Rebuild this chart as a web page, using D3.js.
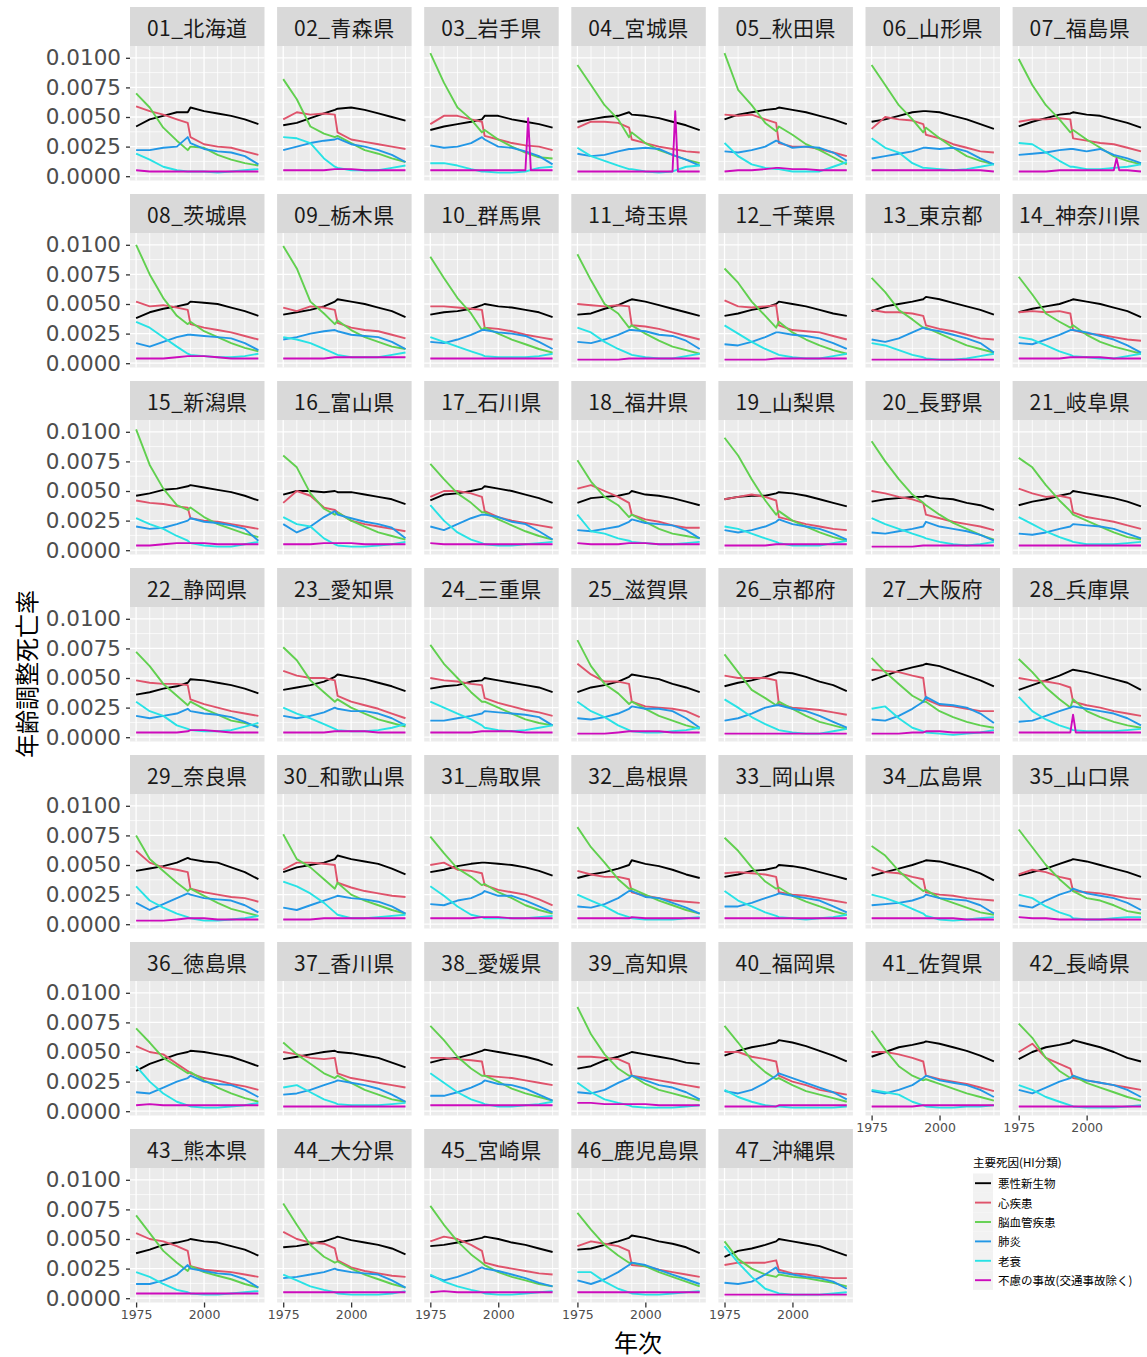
<!DOCTYPE html>
<html>
<head>
<meta charset="utf-8">
<script src="https://cdn.jsdelivr.net/npm/d3@7"></script>
<style>
  body { margin: 0; background: #fff; }
  svg { display: block; }
</style>
</head>
<body>
<svg id="chart" width="1147" height="1357"></svg>
<script>
// sample years (values at these years)
const years = [1975, 1980, 1985, 1990, 1994, 1995, 2000, 2005, 2010, 2015, 2020];

const prefectures = [
  '01_北海道', '02_青森県', '03_岩手県', '04_宮城県', '05_秋田県', '06_山形県', '07_福島県',
  '08_茨城県', '09_栃木県', '10_群馬県', '11_埼玉県', '12_千葉県', '13_東京都', '14_神奈川県',
  '15_新潟県', '16_富山県', '17_石川県', '18_福井県', '19_山梨県', '20_長野県', '21_岐阜県',
  '22_静岡県', '23_愛知県', '24_三重県', '25_滋賀県', '26_京都府', '27_大阪府', '28_兵庫県',
  '29_奈良県', '30_和歌山県', '31_鳥取県', '32_島根県', '33_岡山県', '34_広島県', '35_山口県',
  '36_徳島県', '37_香川県', '38_愛媛県', '39_高知県', '40_福岡県', '41_佐賀県', '42_長崎県',
  '43_熊本県', '44_大分県', '45_宮崎県', '46_鹿児島県', '47_沖縄県'
];

const causes = ['悪性新生物', '心疾患', '脳血管疾患', '肺炎', '老衰', '不慮の事故(交通事故除く)'];

// values in units of 0.0001, one row per prefecture, one column per sample year
const cancer = [
  [42,48,51,54,54,58,55,53,51,48,44], [43,45,49,53,56,57,58,56,53,50,47], [39,42,44,46,48,51,51,48,46,44,41],
  [46,48,50,51,54,52,51,49,46,43,39], [48,52,54,56,57,58,56,54,51,48,44], [46,48,51,54,55,55,54,51,48,44,40],
  [42,46,49,52,53,54,52,51,48,45,41], [38,43,46,48,50,52,51,50,47,44,40], [41,43,45,48,52,54,52,50,47,44,39],
  [41,43,44,46,49,50,48,47,45,43,39], [41,42,46,49,53,54,52,49,46,43,40], [40,42,45,47,50,52,50,48,45,42,40],
  [44,48,50,52,54,56,54,51,48,45,41], [43,46,48,50,53,54,52,50,47,44,39], [46,48,51,52,54,55,53,51,49,46,42],
  [47,50,50,49,50,49,49,47,45,43,39], [42,47,48,50,52,54,52,50,47,44,40], [40,44,45,46,48,50,47,46,44,41,38],
  [43,45,46,46,48,49,48,46,43,40,37], [41,43,44,45,45,46,44,43,40,38,34], [38,41,43,46,48,50,48,46,44,41,37],
  [36,38,41,43,46,49,48,46,44,41,37], [40,42,44,47,51,53,51,49,46,43,39], [41,43,44,47,48,50,48,46,44,42,38],
  [38,42,44,47,51,53,51,49,45,42,38], [43,46,48,51,54,55,54,51,47,44,39], [48,52,56,59,61,62,60,56,52,48,43],
  [40,44,48,52,56,57,55,52,49,46,40], [45,47,49,52,56,55,53,52,48,44,38], [44,48,50,52,55,58,55,53,51,47,42],
  [44,46,49,51,52,52,51,50,48,45,41], [39,42,44,47,50,54,51,49,46,42,39], [40,42,45,46,48,50,49,47,44,41,38],
  [41,44,47,50,53,54,53,50,47,43,37], [41,44,47,51,54,55,53,50,47,44,40], [34,40,44,48,50,51,50,48,46,42,38],
  [44,46,48,50,51,50,49,47,45,41,37], [41,44,45,48,51,52,50,48,46,43,39], [36,38,43,46,49,50,48,46,44,41,40],
  [47,51,54,56,58,60,58,55,51,47,42], [46,50,54,56,58,59,57,54,51,47,42], [44,50,54,56,58,60,57,54,50,45,42],
  [38,41,45,47,49,50,48,47,44,41,36], [43,44,46,48,51,52,49,47,45,42,37], [44,45,47,49,51,52,50,47,45,42,39],
  [41,42,45,48,51,53,51,48,46,43,38], [35,40,42,45,48,50,48,46,44,40,36]
];

const heart = [
  [59,55,52,48,45,33,27,25,24,21,18], [48,54,52,53,52,37,31,29,27,25,23], [44,51,51,48,46,34,31,28,26,25,22],
  [41,46,46,45,41,31,28,25,23,21,20], [52,51,52,48,45,28,25,25,23,20,17], [40,50,48,47,44,35,32,27,24,21,20],
  [46,48,48,49,48,32,30,28,27,24,21], [52,48,49,47,45,33,30,28,26,23,20], [47,44,48,47,45,34,30,28,27,24,21],
  [48,48,47,46,45,30,29,27,24,22,20], [50,49,48,49,48,32,31,29,26,23,20], [53,48,47,48,49,32,28,27,26,23,20],
  [45,43,43,42,40,32,29,27,24,21,20], [43,44,43,44,42,28,25,24,22,20,19], [42,40,39,37,36,27,25,24,22,20,18],
  [40,50,46,36,34,32,25,22,20,18,16], [45,50,50,48,45,33,28,25,23,21,19], [52,55,50,45,40,30,26,24,21,19,19],
  [43,45,47,45,42,28,25,22,20,18,17], [50,48,45,43,40,30,27,24,22,20,17], [52,48,45,46,44,32,28,26,24,21,18],
  [48,46,45,45,44,32,28,25,22,20,18], [56,52,50,50,48,35,30,27,24,20,16], [50,48,47,45,44,33,29,26,23,21,18],
  [62,53,47,47,45,30,26,25,24,22,17], [52,50,50,50,48,28,25,24,23,21,19], [57,56,55,52,50,32,27,26,24,22,22],
  [50,48,47,45,42,30,27,25,22,20,18], [62,52,48,46,44,30,27,25,23,22,19], [46,52,52,51,50,35,31,28,26,24,23],
  [50,52,46,45,43,33,29,27,25,21,16], [45,42,40,40,38,27,24,22,20,19,18], [43,44,43,42,40,27,25,24,22,20,18],
  [48,44,43,40,38,27,25,24,22,21,20], [42,46,44,40,38,28,27,26,24,22,21], [55,50,48,40,34,32,28,26,23,21,18],
  [50,48,45,44,45,32,28,26,24,22,20], [45,45,44,43,42,30,29,28,26,24,22], [46,46,45,44,40,30,28,26,24,22,20],
  [50,50,46,44,42,30,25,22,18,16,14], [50,50,48,45,42,30,27,25,23,20,17], [50,57,45,40,36,28,26,24,22,20,18],
  [55,50,48,44,40,27,24,23,22,20,18], [56,50,47,46,42,32,26,23,21,19,18], [48,52,50,45,40,30,27,25,23,21,20],
  [44,48,46,44,40,28,27,24,22,20,18], [28,30,30,30,32,24,21,20,18,17,17]
];

const stroke = [
  [70,58,41,30,22,25,24,18,14,11,9], [82,65,42,36,33,34,28,22,19,15,12], [104,79,58,48,37,39,31,25,20,16,15],
  [94,77,60,48,33,37,28,22,18,14,11], [104,73,60,45,38,42,35,27,22,16,10], [94,77,60,48,37,41,32,24,17,13,10],
  [99,77,60,48,37,39,31,24,17,13,10], [100,75,55,40,33,35,27,22,17,13,10], [99,80,52,42,33,36,28,22,18,14,12],
  [90,72,55,42,28,30,25,20,16,12,9], [92,70,50,42,30,32,25,19,14,11,8], [80,68,52,40,30,35,26,20,15,11,8],
  [72,60,45,37,30,30,25,20,15,12,9], [73,58,42,35,30,32,24,18,14,11,8], [102,72,52,38,34,36,28,22,18,14,11],
  [80,70,48,35,30,32,25,20,15,12,9], [73,60,48,40,32,32,26,21,16,12,9], [76,58,45,38,28,30,24,18,14,12,10],
  [95,80,60,42,30,33,25,20,15,11,8], [92,75,60,47,40,38,30,23,18,13,9], [78,70,55,42,33,30,25,20,15,11,9],
  [72,60,45,35,27,30,24,19,14,12,9], [76,65,48,38,30,32,25,20,15,12,9], [78,62,50,38,30,30,25,20,15,12,10],
  [82,60,45,37,28,30,24,18,14,10,7], [70,55,40,33,27,30,24,18,13,10,7], [67,55,45,35,30,30,22,17,13,10,8],
  [66,55,42,32,25,32,22,17,13,10,8], [75,55,45,35,28,30,24,18,13,10,7], [76,55,48,38,30,35,25,20,16,12,9],
  [74,60,47,40,33,34,27,22,16,12,9], [82,65,52,38,30,30,25,20,16,12,9], [73,62,48,36,30,31,24,19,15,11,8],
  [66,58,45,35,28,29,22,18,14,10,8], [80,65,50,38,30,28,22,20,16,11,9], [70,58,45,38,32,33,26,20,15,11,8],
  [58,48,40,32,28,30,24,18,14,10,8], [72,60,46,36,30,30,25,19,15,12,9], [88,65,48,36,30,30,23,18,15,12,9],
  [72,58,43,33,27,28,22,17,14,11,8], [68,52,38,30,26,27,23,19,15,12,9], [74,62,45,34,28,30,24,20,16,12,9],
  [70,55,40,30,23,27,22,19,16,12,9], [80,62,45,35,30,31,25,20,16,12,9], [78,62,48,37,30,28,22,18,15,12,10],
  [72,58,45,36,30,30,27,22,18,14,10], [48,33,25,20,18,20,18,17,15,13,10]
];

const pneumonia = [
  [22,22,24,25,33,28,23,21,20,17,10], [22,25,28,30,31,32,27,25,22,18,12], [26,24,25,28,33,31,25,24,21,17,10],
  [19,17,18,21,23,23,24,23,18,14,9], [21,20,22,25,30,29,24,25,24,20,13], [15,17,19,21,24,24,23,24,21,15,10],
  [18,19,20,22,23,23,21,23,18,15,11], [17,14,18,22,24,24,23,22,21,17,11], [20,22,25,27,28,27,24,23,22,18,12],
  [18,17,20,24,28,28,26,25,23,18,12], [18,17,20,24,28,28,27,24,23,19,12], [16,15,18,22,26,26,24,23,21,17,12],
  [20,18,21,26,30,29,27,24,21,17,9], [17,16,20,24,28,28,26,23,20,15,9], [20,18,19,22,25,27,24,23,21,18,8],
  [22,15,20,28,33,30,27,24,22,19,10], [20,17,22,27,30,30,28,24,22,16,9], [17,16,18,20,24,26,23,22,21,17,10],
  [17,15,17,20,24,26,22,20,18,14,9], [15,14,16,18,20,24,20,18,16,13,8], [14,13,15,18,20,22,21,20,18,14,10],
  [18,16,18,20,24,22,20,19,17,13,8], [18,16,18,21,25,24,22,22,20,16,10], [14,14,16,18,20,22,21,20,19,17,10],
  [16,15,17,20,24,26,24,24,22,16,8], [14,16,20,25,27,27,24,22,18,13,8], [15,14,18,24,30,34,28,27,25,20,12],
  [13,14,18,22,25,26,24,22,20,16,10], [18,12,17,22,26,25,22,21,20,16,10], [14,12,16,20,23,24,22,21,19,15,9],
  [17,16,20,22,26,28,24,24,20,15,10], [15,14,17,22,28,28,23,22,18,14,9], [15,15,18,22,25,26,24,22,20,15,10],
  [16,17,18,20,23,25,22,21,20,16,9], [16,14,20,25,28,30,26,24,22,18,12], [16,15,20,25,28,30,25,23,22,18,12],
  [14,15,18,22,25,26,24,22,19,14,8], [13,13,16,20,24,26,23,22,19,14,9], [16,15,18,24,28,30,26,22,20,16,10],
  [17,15,18,24,30,32,28,24,20,16,10], [17,15,18,22,28,30,26,24,22,18,12], [18,15,20,25,28,30,26,24,22,18,12],
  [12,12,15,20,28,25,23,21,20,16,9], [17,18,20,22,25,24,22,21,20,15,9], [19,15,18,22,26,25,23,20,17,13,10],
  [15,12,16,22,28,30,28,24,20,16,12], [13,12,14,20,26,22,20,18,17,14,8]
];

const senility = [
  [19,14,8,5,4,4,4,3,4,5,6], [33,32,28,15,8,7,5,5,5,7,9], [11,11,9,6,4,4,3,3,4,7,8],
  [24,17,13,9,6,6,4,3,4,8,9], [28,17,10,7,6,6,4,4,4,8,12], [32,24,20,11,7,7,6,5,6,8,10],
  [28,27,20,13,8,8,6,6,7,8,10], [35,30,22,14,8,7,6,5,5,6,8], [22,20,17,12,8,7,5,5,5,7,9],
  [22,18,14,10,7,6,5,5,5,6,8], [30,26,18,12,8,7,5,4,4,6,8], [32,25,18,12,8,7,5,4,4,6,8],
  [17,15,11,7,5,4,3,3,4,6,8], [22,20,15,10,7,6,5,4,4,6,8], [27,22,18,12,8,6,4,3,3,5,7],
  [28,22,20,10,5,4,3,3,4,5,7], [38,25,15,9,6,5,4,4,5,6,7], [30,16,14,10,8,7,6,5,5,6,7],
  [20,18,14,10,7,6,4,4,4,6,8], [27,22,18,14,11,10,7,5,4,5,7], [28,22,16,11,8,7,5,5,5,6,7],
  [30,22,18,10,7,6,5,5,6,9,12], [25,20,16,11,7,6,5,5,6,8,11], [30,25,20,15,10,8,6,5,6,8,10],
  [30,22,17,10,6,5,4,4,5,6,8], [32,25,17,11,7,6,4,3,3,5,7], [24,26,16,8,5,4,3,2,3,4,6],
  [34,22,15,10,7,6,5,5,5,6,7], [32,20,14,9,6,5,3,3,4,5,7], [36,32,26,18,10,8,5,5,6,7,8],
  [32,24,15,8,6,5,5,5,5,6,7], [25,20,15,9,6,5,4,4,4,5,6], [28,20,15,10,7,6,5,4,5,6,8],
  [25,22,18,13,9,7,4,3,4,5,6], [25,22,15,10,7,5,4,4,5,6,6], [38,25,15,8,5,4,3,3,4,5,7],
  [20,22,16,10,7,6,5,5,5,6,7], [32,24,16,10,7,6,4,4,5,6,8], [24,16,10,7,5,4,3,3,3,4,5],
  [18,12,8,5,4,4,3,3,3,3,4], [18,16,14,8,5,4,3,3,4,4,5], [22,18,12,8,5,4,3,3,3,4,5],
  [22,18,12,7,5,4,3,3,4,5,6], [20,15,10,7,5,4,3,3,3,4,6], [20,14,10,7,5,4,3,3,4,5,6],
  [22,22,14,8,5,4,3,3,4,5,6], [44,30,18,8,5,4,3,3,3,4,5]
];

const accident = [
  [5,4,4,4,4,4,4,4,4,4,4], [5,5,5,5,6,6,6,5,5,5,5], [5,5,5,5,5,5,5,5,5,5,5], [4,4,4,4,4,4,4,4,4,4,4],
  [4,5,5,6,7,7,6,6,5,5,5], [5,5,5,5,5,5,5,5,5,5,4], [4,4,4,5,5,5,5,5,5,5,4], [4,4,4,5,6,6,6,5,4,4,4],
  [4,4,4,4,5,5,5,5,5,5,5], [4,4,4,4,4,4,4,4,4,4,4], [3,3,3,3,4,4,4,4,4,4,4], [3,3,3,3,4,4,4,4,4,4,4],
  [3,3,3,3,3,3,3,3,3,3,3], [4,4,4,4,5,5,5,5,4,4,4], [4,4,5,6,6,6,6,5,5,5,5], [5,5,5,6,6,6,6,5,5,5,5],
  [6,5,5,5,5,5,5,5,5,5,5], [6,5,5,5,6,6,6,5,5,5,5], [4,4,4,4,5,5,5,5,5,5,5], [3,3,3,3,4,4,4,4,4,4,4],
  [4,4,4,4,4,4,4,4,4,4,4], [4,4,4,4,5,6,6,5,4,4,4], [4,4,4,4,5,5,5,5,4,4,4], [4,4,4,4,5,5,5,5,4,4,4],
  [3,3,3,4,5,5,5,5,4,4,4], [3,3,3,3,3,3,3,3,3,3,3], [3,3,3,4,4,5,5,4,4,4,4], [4,4,4,4,4,4,4,4,4,4,4],
  [3,3,3,4,5,5,5,4,4,4,4], [4,4,4,5,5,5,5,5,5,5,5], [5,5,5,5,6,6,6,5,5,5,5], [5,5,5,5,5,6,5,5,5,5,5],
  [5,5,5,5,5,5,5,5,5,5,5], [5,5,5,5,5,5,5,5,4,4,4], [6,5,5,4,4,4,4,4,4,4,4], [5,6,5,5,5,5,5,5,5,5,5],
  [4,4,4,4,4,4,4,4,4,4,4], [5,5,5,5,5,5,5,5,5,5,5], [7,7,6,6,6,6,6,5,5,5,5], [4,4,4,4,4,5,5,5,5,5,5],
  [4,4,4,4,5,5,5,5,5,5,5], [4,4,4,4,4,4,4,4,4,4,4], [4,4,4,4,4,4,4,4,4,4,4], [5,5,5,5,5,5,5,5,5,5,5],
  [5,6,5,5,5,5,5,5,5,5,5], [5,5,5,5,5,5,5,5,5,5,5], [3,3,3,3,3,3,3,3,3,3,3]
];

// single-year jumps (disasters) in the accident series
const accidentSpikes = [
  { pref: '03_岩手県', points: [[2010, 5], [2011, 49], [2012, 5]] },
  { pref: '04_宮城県', points: [[2010, 4], [2011, 55], [2012, 4]] },
  { pref: '07_福島県', points: [[2010, 5], [2011, 15], [2012, 5]] },
  { pref: '28_兵庫県', points: [[1994, 4], [1995, 19], [1996, 4]] }
];

const causeColors = ['#000000', '#DF536B', '#61D04F', '#2297E6', '#28E2E5', '#CD0BBC'];
const seriesByCause = [cancer, heart, stroke, pneumonia, senility, accident];

// ---- layout ----
const ncol = 7;
const left0 = 130, colStep = 147.1, panelW = 134.5;
const top0 = 7, rowStep = 187, stripH = 39, panelH = 134.5;
const jpFont = "'Noto Sans CJK JP', 'Noto Sans', sans-serif";
const numFont = "'DejaVu Sans', sans-serif";

const x = d3.scaleLinear().domain([1972.75, 2022.25]).range([0, panelW]);
const y = d3.scaleLinear().domain([-0.000363, 0.010997]).range([panelH, 0]);

const svg = d3.select('#chart');
svg.append('rect').attr('width', 1147).attr('height', 1357).attr('fill', '#fff');

function seriesPoints(pi, ci) {
  let pts = years.map((yr, k) => [yr, seriesByCause[ci][pi][k]]);
  if (ci === 5) {
    const sp = accidentSpikes.find((s) => s.pref === prefectures[pi]);
    if (sp) {
      const spYears = new Set(sp.points.map((p) => p[0]));
      pts = pts.filter((p) => !spYears.has(p[0])).concat(sp.points);
      pts.sort((a, b) => a[0] - b[0]);
    }
  }
  return pts;
}

const line = d3.line()
  .x((d) => x(d[0]))
  .y((d) => y(d[1] / 10000));

const nrowOfCol = (c) => Math.floor((prefectures.length - 1 - c) / ncol);

prefectures.forEach((pref, pi) => {
  const r = Math.floor(pi / ncol);
  const c = pi % ncol;
  const px = left0 + c * colStep;
  const sy = top0 + r * rowStep;
  const py = sy + stripH;

  // strip
  const strip = svg.append('g').attr('transform', `translate(${px},${sy})`);
  strip.append('rect').attr('width', panelW).attr('height', stripH).attr('fill', '#D9D9D9');
  strip.append('text')
    .attr('x', panelW / 2).attr('y', stripH / 2)
    .attr('text-anchor', 'middle').attr('dominant-baseline', 'central')
    .attr('font-family', jpFont).attr('font-size', 21).attr('letter-spacing', 0.4)
    .attr('fill', '#1A1A1A')
    .text(pref);

  // panel
  const g = svg.append('g').attr('transform', `translate(${px},${py})`);
  g.append('rect').attr('width', panelW).attr('height', panelH).attr('fill', '#EBEBEB');

  const yMinor = [0.00125, 0.00375, 0.00625, 0.00875];
  const yMajor = [0, 0.0025, 0.005, 0.0075, 0.01];
  const xGrid = d3.range(1975, 2021, 5);
  g.selectAll('.yminor').data(yMinor).join('line')
    .attr('x1', 0).attr('x2', panelW)
    .attr('y1', (d) => y(d)).attr('y2', (d) => y(d))
    .attr('stroke', '#fff').attr('stroke-width', 0.7);
  g.selectAll('.xgrid').data(xGrid).join('line')
    .attr('y1', 0).attr('y2', panelH)
    .attr('x1', (d) => x(d)).attr('x2', (d) => x(d))
    .attr('stroke', '#fff').attr('stroke-width', (d) => (d % 25 === 0 ? 1.3 : 0.8));
  g.selectAll('.ymajor').data(yMajor).join('line')
    .attr('x1', 0).attr('x2', panelW)
    .attr('y1', (d) => y(d)).attr('y2', (d) => y(d))
    .attr('stroke', '#fff').attr('stroke-width', 1.3);

  causes.forEach((cause, ci) => {
    g.append('path')
      .datum(seriesPoints(pi, ci))
      .attr('d', line)
      .attr('fill', 'none')
      .attr('stroke', causeColors[ci])
      .attr('stroke-width', 1.9)
      .attr('stroke-linejoin', 'round');
  });

  // y axis on first column
  if (c === 0) {
    const ax = g.append('g').call(
      d3.axisLeft(y).tickValues(yMajor).tickFormat(d3.format('.4f')).tickSize(4).tickPadding(5)
    );
    ax.select('.domain').remove();
    ax.selectAll('.tick line').attr('stroke', '#333').attr('stroke-width', 1.3);
    ax.selectAll('.tick text')
      .attr('font-family', numFont).attr('font-size', 21.5).attr('fill', '#4D4D4D');
  }

  // x axis under the lowest panel of each column
  if (r === nrowOfCol(c)) {
    const ax = g.append('g').attr('transform', `translate(0,${panelH})`).call(
      d3.axisBottom(x).tickValues([1975, 2000]).tickFormat(d3.format('d')).tickSize(5).tickPadding(3)
    );
    ax.select('.domain').remove();
    ax.selectAll('.tick line').attr('stroke', '#333').attr('stroke-width', 1.3);
    ax.selectAll('.tick text')
      .attr('font-family', numFont).attr('font-size', 12.5).attr('fill', '#4D4D4D');
  }
});

// axis titles
svg.append('text')
  .attr('transform', 'translate(25,674) rotate(-90)')
  .attr('text-anchor', 'middle').attr('dominant-baseline', 'central')
  .attr('font-family', jpFont).attr('font-size', 24).attr('fill', '#000')
  .text('年齢調整死亡率');

svg.append('text')
  .attr('x', 638).attr('y', 1341)
  .attr('text-anchor', 'middle').attr('dominant-baseline', 'central')
  .attr('font-family', jpFont).attr('font-size', 24).attr('fill', '#000')
  .text('年次');

// legend
const lg = svg.append('g').attr('transform', 'translate(973,1161.5)');
lg.append('text')
  .attr('x', 0).attr('y', 0).attr('dominant-baseline', 'central')
  .attr('font-family', jpFont).attr('font-size', 11.5).attr('fill', '#000')
  .text('主要死因(HI分類)');
const keyH = 19.4;
const items = lg.selectAll('.item').data(causes).join('g')
  .attr('transform', (d, i) => `translate(0,${12 + i * keyH})`);
items.append('rect').attr('width', 20).attr('height', keyH).attr('fill', '#F2F2F2');
items.append('line')
  .attr('x1', 2).attr('x2', 18).attr('y1', keyH / 2).attr('y2', keyH / 2)
  .attr('stroke', (d, i) => causeColors[i]).attr('stroke-width', 1.9);
items.append('text')
  .attr('x', 25).attr('y', keyH / 2).attr('dominant-baseline', 'central')
  .attr('font-family', jpFont).attr('font-size', 11.5).attr('fill', '#000')
  .text((d) => d);
</script>
</body>
</html>
